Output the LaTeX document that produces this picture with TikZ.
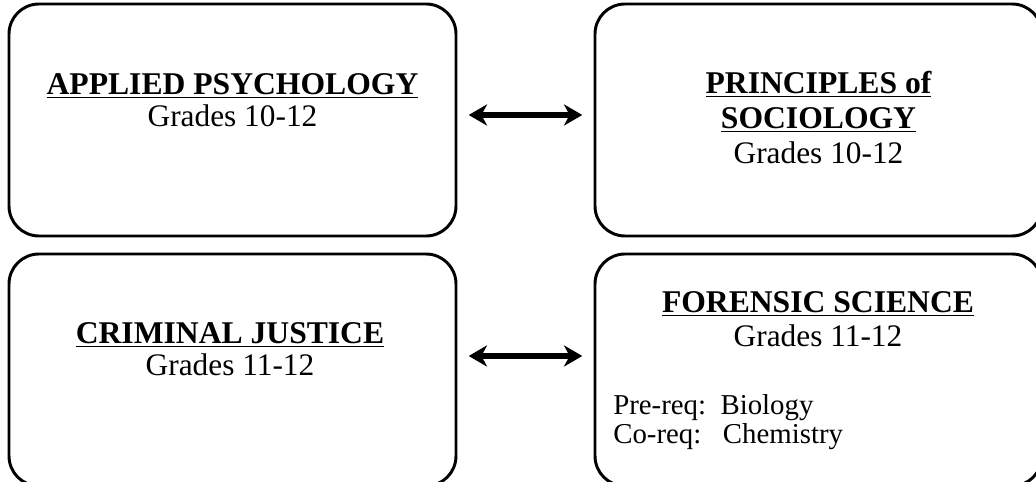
\documentclass[tikz,border=0pt]{standalone}
\usepackage{fontspec}
\setmainfont{Liberation Serif}
\usetikzlibrary{arrows.meta}

\tikzset{
  course/.style={draw, line width=2.1pt, rounded corners=0.75cm,
    minimum width=11.175cm, minimum height=5.8cm, inner sep=0pt},
  title/.style={anchor=base, inner sep=0pt, font=\fontsize{22.5}{26}\selectfont\bfseries},
  grade/.style={anchor=base, inner sep=0pt, font=\fontsize{22.3}{26}\selectfont},
  req/.style={anchor=base west, inner sep=0pt, font=\fontsize{20.5}{24}\selectfont},
  link/.style={{Stealth[length=13pt,width=15pt,inset=4pt]}-{Stealth[length=13pt,width=15pt,inset=4pt]},
    line width=3.6pt, shorten <=8pt, shorten >=8pt}
}

\begin{document}
\begin{tikzpicture}
%\draw [help lines] (0,0) grid (26,12);
\clip (0,0) rectangle (25.9,12.05);
\useasboundingbox (0,0) rectangle (25.9,12.05);

\node [course] (psych) at (5.8125,9.05) {};
\node [course] (socio) at (20.4625,9.05) {};
\node [course] (crim)  at (5.8125,2.8) {};
\node [course] (foren) at (20.4625,2.8) {};

\node [title] (psychT) at (5.8125,9.675) {\underline{APPLIED PSYCHOLOGY}};
\node [grade] (psychG) at (5.8125,8.875) {Grades 10-12};

\node [title] (socioT)  at (20.4625,9.7) {\underline{PRINCIPLES of}};
\node [title] (socioT2) at (20.4625,8.825) {\underline{SOCIOLOGY}};
\node [grade] (socioG)  at (20.4625,7.95) {Grades 10-12};

\node [title] (crimT) at (5.75,3.45) {\underline{CRIMINAL JUSTICE}};
\node [grade] (crimG) at (5.75,2.65) {Grades 11-12};

\node [title] (forenT) at (20.45,4.225) {\underline{FORENSIC SCIENCE}};
\node [grade] (forenG) at (20.45,3.375) {Grades 11-12};
\node [req] (pre) at (15.325,1.675) {Pre-req:\ \ Biology};
\node [req] (co)  at (15.325,0.95) {Co-req:\ \ \ Chemistry};

% two-way links
\draw [link] ([yshift=0.125cm]psych.east) -- ([yshift=0.125cm]socio.west);
\draw [link] ([yshift=0.35cm]crim.east) -- ([yshift=0.35cm]foren.west);

\end{tikzpicture}
\end{document}
